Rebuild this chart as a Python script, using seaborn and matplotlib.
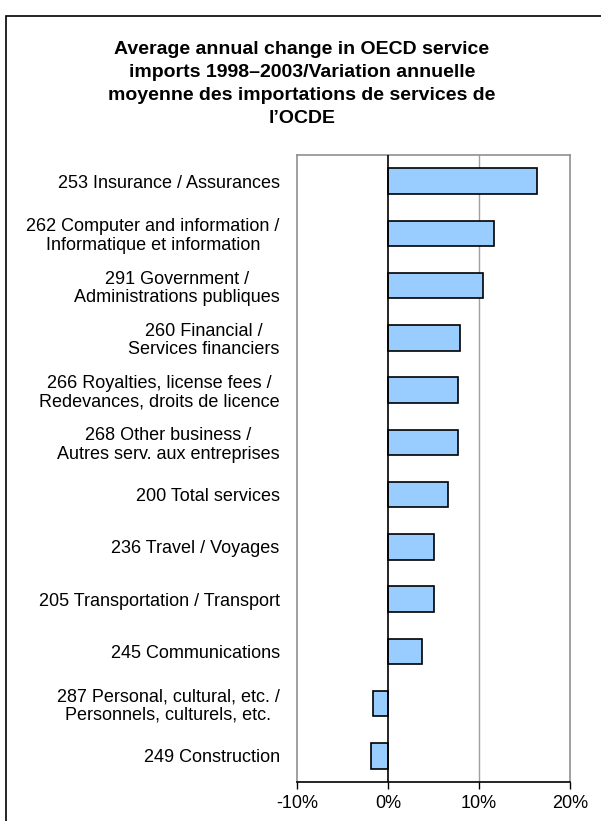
import matplotlib
matplotlib.use("Agg")
import matplotlib.pyplot as plt
import seaborn as sns
import pandas as pd
from matplotlib.patches import Rectangle
from matplotlib.ticker import FuncFormatter

categories = [
    "253 Insurance / Assurances",
    "262 Computer and information /\nInformatique et information",
    "291 Government /\nAdministrations publiques",
    "260 Financial /\nServices financiers",
    "266 Royalties, license fees /\nRedevances, droits de licence",
    "268 Other business /\nAutres serv. aux entreprises",
    "200 Total services",
    "236 Travel / Voyages",
    "205 Transportation / Transport",
    "245 Communications",
    "287 Personal, cultural, etc. /\nPersonnels, culturels, etc.",
    "249 Construction",
]
values = [16.4, 11.6, 10.4, 7.9, 7.7, 7.7, 6.6, 5.0, 5.0, 3.7, -1.7, -1.9]
xticks = [-10, 0, 10, 20]

df = pd.DataFrame({"cat": categories, "val": values})

sns.set_theme(style="white")
plt.rcParams["font.family"] = ["Liberation Sans", "DejaVu Sans"]
plt.rcParams["text.color"] = "black"
plt.rcParams["xtick.color"] = "black"
plt.rcParams["ytick.color"] = "black"

fig = plt.figure(figsize=(6.01, 8.21), dpi=100)
W, H = 601, 821
ax = fig.add_axes([297 / W, 1 - 782 / H, (570 - 297) / W, (782 - 155) / H])

sns.barplot(data=df, x="val", y="cat", orient="h", color="#99CCFF",
            saturation=1, width=0.49, edgecolor="black", linewidth=1.2, ax=ax)

ax.set_xlim(-10, 20)
ax.set_xticks(xticks)
ax.xaxis.set_major_formatter(FuncFormatter(lambda v, p: f"{v:.0f}%"))
ax.set_xlabel("")
ax.set_ylabel("")
ax.axvline(10, color="#A0A0A0", lw=1, zorder=0)
ax.axvline(0, color="black", lw=1.2, zorder=3)

for s in ["left", "top", "right"]:
    ax.spines[s].set_color("#909090")
    ax.spines[s].set_linewidth(1.2)
ax.spines["bottom"].set_color("black")
ax.spines["bottom"].set_linewidth(1.2)

ax.tick_params(axis="x", bottom=True, direction="out", length=5, width=1,
               color="black", labelcolor="black", labelsize=13, pad=4.5)
ax.tick_params(axis="y", left=False, labelsize=13, pad=6.5, labelcolor="black")
for lab in ax.get_yticklabels():
    lab.set_multialignment("center")
    lab.set_linespacing(1.1)

fig.text(302 / W, 1 - 41 / H,
         "Average annual change in OECD service\nimports 1998\u20132003/Variation annuelle\nmoyenne des importations de services de\nl\u2019OCDE",
         ha="center", va="top", fontsize=14, fontweight="bold",
         linespacing=1.46, color="black")

fig.patches.append(Rectangle((6 / W, -0.05), 1.0, 1 - 16 / H + 0.05,
                             transform=fig.transFigure, fill=False,
                             edgecolor="black", lw=1.2))

fig.savefig("out.png", dpi=100)
